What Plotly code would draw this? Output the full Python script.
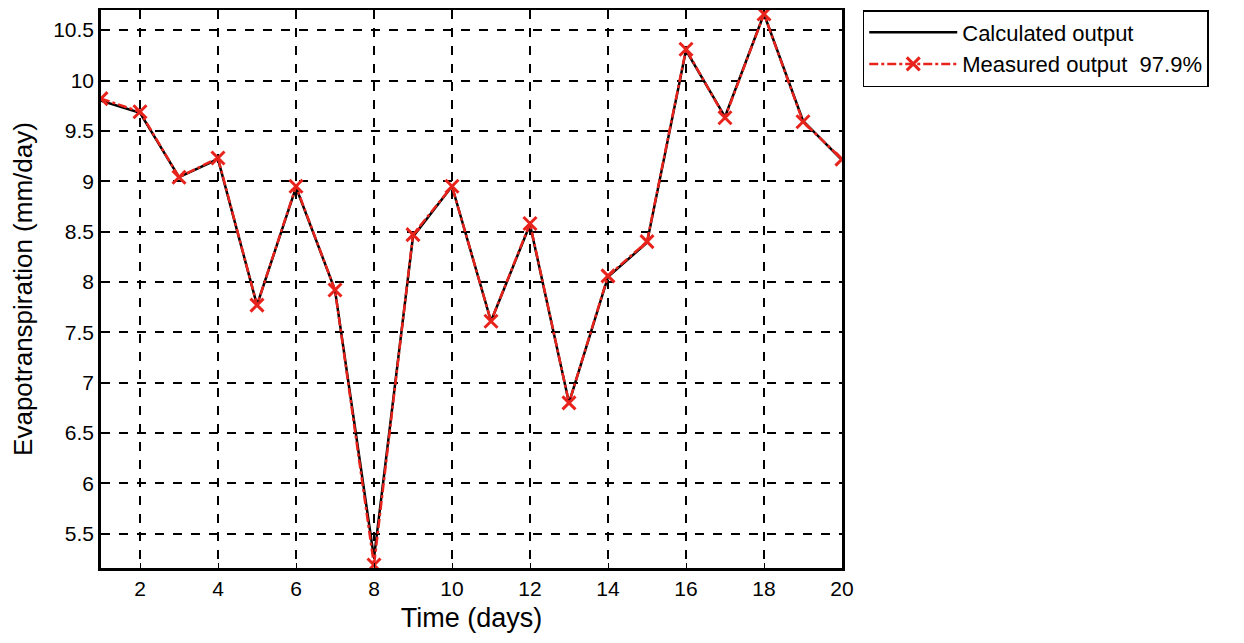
import plotly.graph_objects as go

days = list(range(1, 21))
calculated = [9.80, 9.68, 9.04, 9.22, 7.77, 8.94, 7.92, 5.26, 8.45, 8.95,
              7.61, 8.57, 6.80, 8.05, 8.39, 10.30, 9.64, 10.66, 9.60, 9.21]
measured = [9.82, 9.69, 9.04, 9.23, 7.77, 8.95, 7.92, 5.19, 8.47, 8.95,
            7.61, 8.58, 6.80, 8.06, 8.40, 10.31, 9.63, 10.66, 9.59, 9.22]
x_ticks = [2, 4, 6, 8, 10, 12, 14, 16, 18, 20]
y_ticks = [5.5, 6, 6.5, 7, 7.5, 8, 8.5, 9, 9.5, 10, 10.5]

fig = go.Figure()

fig.add_trace(go.Scatter(
    x=days, y=calculated, mode="lines", name="Calculated output",
    line=dict(color="black", width=2.5),
))
fig.add_trace(go.Scatter(
    x=days, y=measured, mode="lines+markers", name="Measured output  97.9%",
    line=dict(color="#e8231c", width=2.5, dash="dashdot"),
    marker=dict(symbol="x-thin", size=13, line=dict(color="#e8231c", width=3)),
))

base_font = dict(family="Liberation Sans, Arial, sans-serif", size=21, color="black")

# page body adds an 8px offset, so margins are trimmed to land the plot where the reference has it
fig.update_layout(
    width=1244, height=643,
    margin=dict(l=93, r=410, t=2, b=83),
    plot_bgcolor="white", paper_bgcolor="white",
    font=base_font,
    showlegend=True,
    legend=dict(
        x=1.028, y=1.0, xanchor="left", yanchor="top",
        bordercolor="black", borderwidth=1.5, bgcolor="white",
        font=dict(family="Liberation Sans, Arial, sans-serif", size=22, color="black"),
        itemwidth=88, tracegroupgap=0,
    ),
)

fig.update_xaxes(
    range=[1, 20], tickvals=x_ticks, ticktext=[str(v) for v in x_ticks],
    showline=True, linecolor="black", linewidth=2.5, mirror=True,
    showgrid=True, gridcolor="black", gridwidth=1.5, griddash="dash",
    ticks="inside", ticklen=5, tickcolor="black", zeroline=False,
    automargin=False,
    title=dict(text="Time (days)", font=dict(size=27), standoff=10),
)
fig.update_yaxes(
    range=[5.16, 10.7], tickvals=y_ticks, ticktext=[f"{v:g}" for v in y_ticks],
    showline=True, linecolor="black", linewidth=2.5, mirror=True,
    showgrid=True, gridcolor="black", gridwidth=1.5, griddash="dash",
    ticks="inside", ticklen=5, tickcolor="black", zeroline=False,
    automargin=False,
    title=dict(text="Evapotranspiration (mm/day)", font=dict(size=26), standoff=14),
)

fig.write_html("out.html")
